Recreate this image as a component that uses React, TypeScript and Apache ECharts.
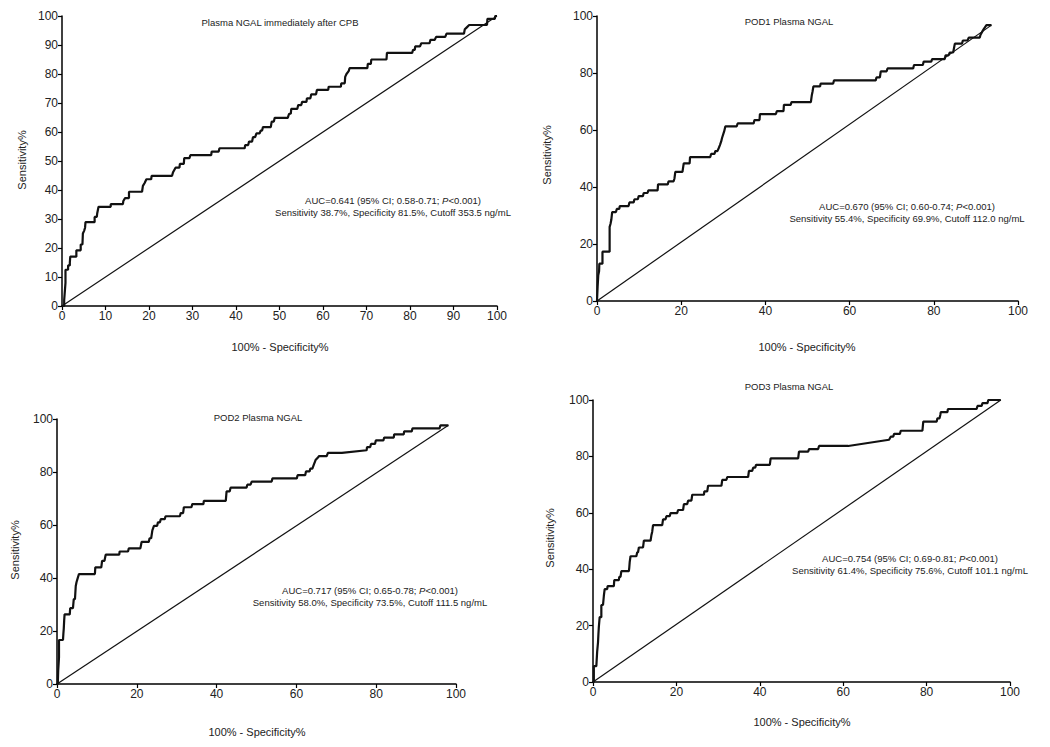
import React, { useEffect, useRef } from "react";
import * as echarts from "echarts";

// ---- Data ----
const titles = [
  "Plasma NGAL immediately after CPB",
  "POD1 Plasma NGAL",
  "POD2 Plasma NGAL",
  "POD3 Plasma NGAL",
];
const aucLines = [
  ["AUC=0.641 (95% CI; 0.58-0.71; {i|P}<0.001)", "Sensitivity 38.7%, Specificity 81.5%, Cutoff 353.5 ng/mL"],
  ["AUC=0.670 (95% CI; 0.60-0.74; {i|P}<0.001)", "Sensitivity 55.4%, Specificity 69.9%, Cutoff 112.0 ng/mL"],
  ["AUC=0.717 (95% CI; 0.65-0.78; {i|P}<0.001)", "Sensitivity 58.0%, Specificity 73.5%, Cutoff 111.5 ng/mL"],
  ["AUC=0.754 (95% CI; 0.69-0.81; {i|P}<0.001)", "Sensitivity 61.4%, Specificity 75.6%, Cutoff 101.1 ng/mL"],
];
const xTickIntervals = [10, 20, 20, 20];
const yTickIntervals = [10, 20, 20, 20];
const xAxisName = "100% - Specificity%";
const yAxisName = "Sensitivity%";

const roc1: number[][] = [
  [0,0],[0.5,0],[0.5,2],[0.6,4],[0.8,8],[0.8,12.5],[1.4,12.5],[1.4,14],[1.8,14],[1.8,15],[1.9,15],[1.9,17],[3.3,17],[3.3,19.2],[4.3,19.2],[4.3,21.2],[4.7,21.2],[4.8,25],[5.1,26],[5.3,27],[5.4,28.9],[7.5,28.9],[7.5,30.7],[8.0,30.7],[8.1,32],[8.4,34.2],[11.2,34.2],[11.2,35.1],[14.0,35.1],[14.1,36.2],[14.5,37.2],[15.4,37.2],[15.4,39.4],[18.4,39.4],[18.6,41.4],[19.0,42.4],[19.4,43.7],[20.5,43.7],[20.6,44.9],[25.3,44.9],[25.5,46],[26.1,47.7],[27.0,47.7],[27.1,49],[28.0,49],[28.1,51],[29.3,51],[29.5,52],[34.3,52],[34.4,53.2],[36.0,53.2],[36.2,54.4],[42.0,54.4],[42.1,55.5],[42.8,55.5],[43.0,56.7],[43.7,56.7],[43.9,58.2],[44.4,58.2],[44.7,59.5],[45.4,59.5],[45.7,60.5],[46.0,60.5],[46.2,61.7],[48.0,61.7],[48.2,63.6],[48.7,63.6],[48.9,64.9],[51.9,64.9],[52.2,66.3],[52.6,66.3],[52.7,68],[54.1,68],[54.3,69.3],[55.0,69.3],[55.2,70.4],[56.2,70.4],[56.3,71.6],[57.1,71.6],[57.3,73],[58.4,73],[58.6,74.5],[61.2,74.5],[61.3,75.6],[64.1,75.6],[64.2,76.8],[65.0,76.8],[65.1,79],[65.4,80],[65.9,81],[66.1,82],[70.2,82],[70.3,83.5],[71.0,83.5],[71.1,85],[74.6,85],[74.7,87.3],[80.5,87.3],[80.7,88.3],[81.1,88.3],[81.2,89.5],[82.3,89.5],[82.6,90.6],[84.5,90.6],[84.7,91.8],[85.7,91.8],[86.0,92.8],[88.1,92.8],[88.4,93.9],[92.4,93.9],[92.6,95.4],[93.0,96],[93.6,96.9],[97.7,96.9],[97.8,99],[99.5,99],[99.6,100],[100,100],
];
const roc2: number[][] = [
  [0,0],[0.15,0],[0.15,5],[0.3,9],[0.5,10.5],[0.55,13.1],[1.3,13.1],[1.3,17.3],[3.0,17.3],[3.0,26],[3.2,27],[3.4,28.5],[3.6,31.2],[4.5,31.2],[4.7,32.3],[5.3,32.3],[5.4,33.3],[7.5,33.3],[7.7,34.6],[8.7,34.6],[8.9,35.7],[9.7,35.7],[9.9,36.8],[10.9,36.8],[11.1,37.9],[12.0,37.9],[12.2,38.8],[14.4,38.8],[14.5,40.9],[16.8,40.9],[17.0,42],[18.2,42],[18.4,43],[18.6,45.3],[20.3,45.3],[20.6,48.3],[22.0,48.3],[22.1,50.5],[26.9,50.5],[27.1,51.6],[27.9,51.6],[28.1,52.6],[28.6,52.6],[28.9,53.6],[29.2,54.7],[29.5,56],[29.7,57.2],[30.2,59.5],[30.5,61.3],[33.2,61.3],[33.4,62.3],[37.2,62.3],[37.4,63.5],[38.6,63.5],[38.7,65.6],[42.5,65.6],[42.7,66.6],[44.3,66.6],[44.4,68.8],[46.0,68.8],[46.2,69.8],[50.8,69.8],[51.0,72],[51.2,73.5],[51.4,75.3],[53.0,75.3],[53.1,76.3],[56.1,76.3],[56.3,77.4],[66.2,77.4],[66.4,78.5],[67.2,78.5],[67.4,80.6],[68.8,80.6],[69.0,81.6],[75.1,81.6],[75.3,82.8],[77.4,82.8],[77.6,84],[79.4,84],[79.6,84.9],[82.6,84.9],[82.8,86.2],[83.5,86.2],[83.8,87.2],[84.6,87.2],[85.0,90.3],[86.7,90.3],[86.9,91.4],[88.0,91.4],[88.3,92.4],[90.9,92.4],[91.1,93.4],[91.5,94.5],[91.9,95.5],[92.5,96.8],[93.7,96.8],
];
const roc3: number[][] = [
  [0,0],[0.2,0],[0.3,5],[0.5,10],[0.5,16.6],[1.5,16.6],[1.6,19],[1.7,21],[1.8,24],[1.9,26.3],[3.2,26.3],[3.3,28.6],[4.0,28.6],[4.2,32],[4.5,32],[4.7,37],[4.9,38.5],[5.1,39.5],[5.5,41.5],[9.5,41.5],[9.6,44],[11.1,44],[11.3,46.5],[11.9,46.5],[12.2,48.8],[15.6,48.8],[15.7,50],[17.8,50],[18.0,51.2],[20.9,51.2],[21.2,53.6],[23.0,53.6],[23.2,55],[23.6,55],[23.9,58],[24.3,59.7],[25.1,59.7],[25.3,61],[25.8,61],[26.0,62.2],[27.0,62.2],[27.2,63.3],[30.8,63.3],[31.0,64.5],[31.6,64.5],[31.8,66.7],[33.7,66.7],[33.9,67.9],[36.7,67.9],[36.8,69.1],[42.3,69.1],[42.5,72.7],[43.3,72.7],[43.5,74.1],[47.5,74.1],[47.7,75.2],[48.5,75.2],[48.8,76.4],[53.8,76.4],[54.0,77.6],[60.1,77.6],[60.3,78.8],[62.2,78.8],[62.4,80.2],[63.3,80.2],[63.5,81.3],[64.0,81.3],[64.3,82.5],[64.8,84.5],[65.4,85.5],[65.7,86],[67.6,86],[67.9,87.2],[71.4,87.2],[77.6,88.2],[77.7,89.4],[78.5,89.4],[78.7,90.6],[79.7,90.6],[79.9,91.9],[81.8,91.9],[82.0,93],[84.4,93],[84.5,94.2],[86.9,94.2],[87.0,95.3],[88.9,95.3],[89.1,96.5],[95.9,96.5],[96.1,97.6],[98.1,97.6],
];
const roc4: number[][] = [
  [0,0],[0.2,0],[0.2,5.6],[0.8,5.6],[1.0,10.8],[1.2,14],[1.3,17],[1.4,19.5],[1.6,23],[2.0,23],[2.0,27.3],[2.4,27.3],[2.6,30.5],[2.8,32.9],[3.4,32.9],[3.5,34],[5.0,34],[5.1,36.1],[6.2,36.1],[6.3,37.3],[6.6,37.3],[6.8,39.3],[8.6,39.3],[8.7,40.6],[8.8,42.5],[9.0,44.6],[10.4,44.6],[10.6,46],[10.8,46],[11.0,47.7],[12.0,47.7],[12.2,50.1],[13.8,50.1],[14.0,52],[14.2,53.3],[14.4,55.6],[16.6,55.6],[16.8,57.7],[17.4,57.7],[17.6,58.8],[18.4,58.8],[18.6,59.9],[20.2,59.9],[20.4,61],[21.6,61],[21.8,63.1],[22.6,63.1],[22.8,64.3],[23.6,64.3],[23.8,66.4],[26.6,66.4],[26.7,67.6],[27.4,67.6],[27.6,69.6],[30.8,69.6],[31.0,71.7],[32.0,71.7],[32.2,72.7],[37.2,72.7],[37.4,74.9],[38.2,74.9],[38.4,76],[38.9,76],[39.1,77],[42.4,77],[42.6,79.3],[49.2,79.3],[49.4,81.7],[51.6,81.7],[51.8,82.6],[54.0,82.6],[54.2,83.7],[61.2,83.7],[71.0,85.9],[71.4,87],[72.0,87],[72.2,88],[73.6,88],[73.8,89.1],[79.0,89.1],[79.2,92.3],[82.4,92.3],[82.6,93.5],[83.1,93.5],[83.3,94.8],[83.4,95.7],[85.0,95.7],[85.1,96.8],[92.0,96.8],[92.2,97.9],[93.2,97.9],[93.4,98.9],[94.6,98.9],[94.8,100],[97.8,100],
];
const rocs = [roc1, roc2, roc3, roc4];

// ---- Layout ----
const grids = [
  { left: 62, top: 16, width: 435, height: 290 },
  { left: 597, top: 16, width: 421, height: 285 },
  { left: 57, top: 419, width: 399, height: 265 },
  { left: 593, top: 400, width: 417, height: 282 },
];
const titlePos = [[280, 22], [789, 21], [258, 417], [789, 386]];
const yNamePos = [[22, 160], [547, 155], [15, 550], [550, 538]];
const xNamePos = [[280, 347], [807, 347], [257, 732], [802, 722]];
const aucPos = [[393, 206], [907, 212], [370, 596], [910, 564]];

const FONT = "'Liberation Sans', Arial, sans-serif";
const TXT = "#222";

export default function App() {
  const ref = useRef<HTMLDivElement>(null);
  useEffect(() => {
    document.body.style.margin = "0";
    if (!ref.current) return;
    const chart = echarts.init(ref.current, null, { renderer: "svg" });

    const xAxis = grids.map((_, i) => ({
      type: "value",
      gridIndex: i,
      min: 0,
      max: 100,
      interval: xTickIntervals[i],
      axisLine: { show: true, lineStyle: { color: "#000", width: 1.5 } },
      axisTick: { show: true, length: 4, lineStyle: { color: "#000", width: 1.2 } },
      axisLabel: { fontSize: 12, color: TXT, fontFamily: FONT, margin: 4 },
      splitLine: { show: false },
    }));
    const yAxis = grids.map((_, i) => ({
      type: "value",
      gridIndex: i,
      min: 0,
      max: 100,
      interval: yTickIntervals[i],
      axisLine: { show: true, lineStyle: { color: "#000", width: 1.5 } },
      axisTick: { show: true, length: 4, lineStyle: { color: "#000", width: 1.2 } },
      axisLabel: { fontSize: 12, color: TXT, fontFamily: FONT, margin: 4 },
      splitLine: { show: false },
    }));

    const series: any[] = [];
    rocs.forEach((d, i) => {
      series.push({
        type: "line",
        xAxisIndex: i,
        yAxisIndex: i,
        data: d,
        showSymbol: false,
        lineStyle: { color: "#111", width: 2.2 },
        z: 3,
      });
      series.push({
        type: "line",
        xAxisIndex: i,
        yAxisIndex: i,
        data: [[0, 0], d[d.length - 1]],
        showSymbol: false,
        lineStyle: { color: "#111", width: 1.2 },
        z: 2,
      });
    });

    const graphic: any[] = [];
    titles.forEach((t, i) => {
      graphic.push({
        type: "text",
        x: titlePos[i][0],
        y: titlePos[i][1],
        style: { text: t, fontSize: 9.5, fontFamily: FONT, fill: TXT, textAlign: "center", textVerticalAlign: "middle" },
      });
      graphic.push({
        type: "text",
        x: xNamePos[i][0],
        y: xNamePos[i][1],
        style: { text: xAxisName, fontSize: 11, fontFamily: FONT, fill: TXT, textAlign: "center", textVerticalAlign: "middle" },
      });
      graphic.push({
        type: "text",
        x: yNamePos[i][0],
        y: yNamePos[i][1],
        rotation: Math.PI / 2,
        style: { text: yAxisName, fontSize: 11, fontFamily: FONT, fill: TXT, textAlign: "center", textVerticalAlign: "middle" },
      });
      graphic.push({
        type: "text",
        x: aucPos[i][0],
        y: aucPos[i][1],
        style: {
          text: aucLines[i][0] + "\n" + aucLines[i][1],
          fontSize: 9.5,
          lineHeight: 12,
          fontFamily: FONT,
          fill: TXT,
          align: "center",
          textAlign: "center",
          textVerticalAlign: "middle",
          rich: { i: { fontStyle: "italic", fontSize: 9.5, fontFamily: FONT, fill: TXT } },
        },
      });
    });

    chart.setOption({
      animation: false,
      backgroundColor: "#fff",
      grid: grids.map((g) => ({ ...g, containLabel: false })),
      xAxis,
      yAxis,
      series,
      graphic,
    });
    return () => chart.dispose();
  }, []);
  return <div ref={ref} style={{ width: 1050, height: 747 }} />;
}
